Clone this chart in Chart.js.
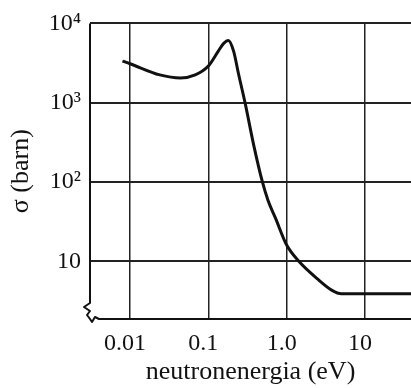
<!DOCTYPE html>
<html><head><meta charset="utf-8">
<script src="https://cdn.jsdelivr.net/npm/chart.js@4"></script>
<style>html,body{margin:0;padding:0;background:#fff;overflow:hidden}#wrap{width:411px;height:388px}</style>
</head><body><div id="wrap"><canvas id="c" width="411" height="388"></canvas></div>
<script>
const energy = [0.008, 0.01, 0.024, 0.044, 0.068, 0.1, 0.134, 0.157, 0.18, 0.21, 0.243, 0.294, 0.38, 0.49, 0.58, 0.72, 1.0, 1.43, 2.57, 3.8, 5, 10, 39];
const sigma  = [3350, 3100, 2240, 2050, 2240, 2900, 4470, 5600, 6100, 4470, 2300, 1000, 290, 100, 58, 35, 16, 10, 5.8, 4.3, 3.9, 3.9, 3.9];
const xTicks = [0.01, 0.1, 1, 10];
const xTickLabels = ['0.01', '0.1', '1.0', '10'];
const yTicks = [10, 100, 1000, 10000];
const yTickLabels = ['10', '10²', '10³', '10⁴'];
const xTitle = 'neutronenergia (eV)';
const yTitle = 'σ (barn)';

const ink = '#111';
const framePlugin = {
  id: 'frame',
  afterDraw(chart) {
    const {ctx, chartArea: a} = chart;
    ctx.save();
    ctx.strokeStyle = ink; ctx.lineWidth = 2; ctx.lineJoin = 'round';
    ctx.beginPath();
    ctx.moveTo(a.left, a.top);
    ctx.lineTo(a.left, a.bottom - 16);
    ctx.lineTo(a.left - 6, a.bottom - 12);
    ctx.lineTo(a.left, a.bottom - 8);
    ctx.lineTo(a.left - 3, a.bottom - 4);
    ctx.lineTo(a.left, a.bottom);
    ctx.lineTo(a.left + 2, a.bottom + 3);
    ctx.lineTo(a.left + 5, a.bottom - 2);
    ctx.lineTo(a.left + 9, a.bottom);
    ctx.lineTo(a.right, a.bottom);
    ctx.stroke();
    ctx.restore();
  }
};

new Chart(document.getElementById('c'), {
  type: 'line',
  data: {
    datasets: [{
      data: energy.map((e, i) => ({x: e, y: sigma[i]})),
      borderColor: ink,
      borderWidth: 3,
      pointRadius: 0,
      fill: false,
      cubicInterpolationMode: 'monotone'
    }]
  },
  options: {
    responsive: false,
    animation: false,
    devicePixelRatio: 1,
    layout: {padding: {top: 22, right: 0, left: 0, bottom: 0}},
    plugins: {legend: {display: false}, tooltip: {enabled: false}},
    scales: {
      x: {
        type: 'logarithmic',
        min: 0.00308, max: 38.7,
        afterBuildTicks: s => { s.ticks = xTicks.map(v => ({value: v})); },
        afterFit: s => { s.height = 69; },
        grid: {color: '#222', lineWidth: 1.5, drawTicks: false},
        border: {display: false},
        ticks: {
          color: ink, padding: 10, labelOffset: -5, maxRotation: 0, autoSkip: false,
          font: {family: 'Liberation Serif', size: 24},
          callback: (v, i) => xTickLabels[i]
        },
        title: {display: true, text: xTitle, color: ink, padding: {top: 0, bottom: 0},
          font: {family: 'Liberation Serif', size: 26}}
      },
      y: {
        type: 'logarithmic',
        min: 1.87, max: 10000,
        afterBuildTicks: s => { s.ticks = yTicks.map(v => ({value: v})); },
        afterFit: s => { s.width = 90; },
        grid: {color: '#222', lineWidth: 2, drawTicks: false},
        border: {display: false},
        ticks: {
          color: ink, padding: 9, autoSkip: false,
          font: {family: 'Liberation Serif', size: 24},
          callback: (v, i) => yTickLabels[i]
        },
        title: {display: true, text: yTitle, color: ink, padding: {top: 6, bottom: 0},
          font: {family: 'Liberation Serif', size: 26}}
      }
    }
  },
  plugins: [framePlugin]
});
</script>
</body></html>
